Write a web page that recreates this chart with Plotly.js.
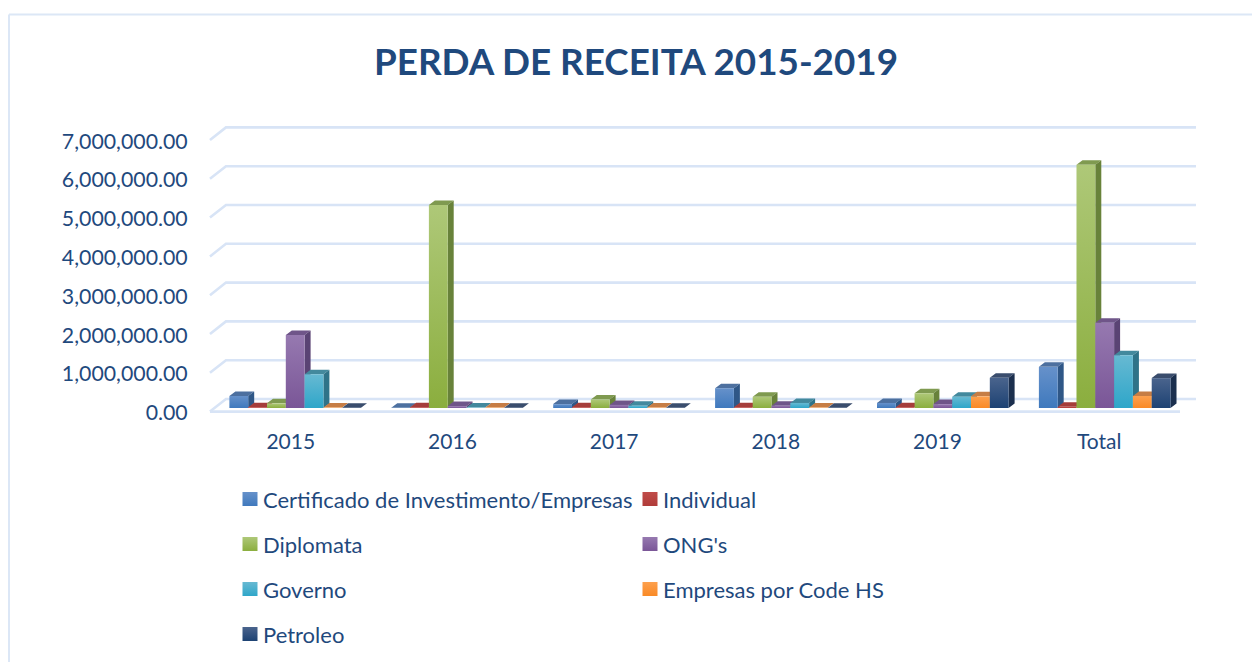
<!DOCTYPE html>
<html>
<head>
<meta charset="utf-8">
<script src="https://cdn.plot.ly/plotly-3.0.1.min.js"></script>
<style>html,body{margin:0;padding:0;background:#fff;overflow:hidden}#chart{width:1252px;height:662px}</style>
</head>
<body>
<div id="chart"></div>
<script>
const categories = ['2015','2016','2017','2018','2019','Total'];
const certificado = [310000, 5000, 100000, 510000, 130000, 1060000];
const individual  = [20000, 20000, 20000, 20000, 20000, 30000];
const diplomata   = [120000, 5230000, 220000, 290000, 380000, 6270000];
const ongs        = [1880000, 50000, 80000, 60000, 100000, 2200000];
const governo     = [870000, 10000, 60000, 130000, 290000, 1360000];
const empresasHS  = [10000, 10000, 10000, 10000, 300000, 310000];
const petroleo    = [5000, 5000, 5000, 5000, 780000, 770000];
const seriesNames = ['Certificado de Investimento/Empresas','Individual','Diplomata',"ONG's",'Governo','Empresas por Code HS','Petroleo'];
const seriesValues = [certificado, individual, diplomata, ongs, governo, empresasHS, petroleo];
const yTicks = [0,1000000,2000000,3000000,4000000,5000000,6000000,7000000];

const frontColors = [['#6691ca','#3f79bd'],['#c04c49','#b03c39'],['#aec878','#8bae3e'],['#9679b0','#7a5697'],['#67b9d2','#2ea6c9'],['#fda04e','#f98a26'],['#4a648d','#1d4273']];
const topColors  = ['#4d709f','#a53d3a','#7f9a50','#6f5589','#43899d','#c67d45','#3a4d6d'];
const sideColors = ['#2f5787','#7f2c2a','#68823a','#5a4374','#2f7388','#b56a2c','#1b2f4e'];
const legendPos = [[243,499.3],[643,499.3],[243,544.3],[643,544.3],[243,589.3],[643,589.3],[243,634.3]];

const W = 1252, H = 662;
const P = {l:205, r:1200, t:115, b:418};
const PXY = 38.8e-6;                       // px per unit
const front = {x0:290.8, sx:161.67, y0:411.6};
const bars  = {x0:295.2, sx:161.9,  y0:408};
const bargap = 0.187;
const bw = (1-bargap)/7;
const depthX = 6/bars.sx, depthY = 4.5/PXY;
const wallX = 16/front.sx, wallY = 12.6/PXY;

const rng = g => ({
  x:[(P.l-g.x0)/g.sx,(P.r-g.x0)/g.sx],
  y:[(g.y0-P.b)/PXY,(g.y0-P.t)/PXY]
});
const rF = rng(front), rB = rng(bars);

const traces = [];
// back wall + floor
const wx=[], wy=[];
yTicks.forEach(v=>{ wx.push(-0.5,-0.5+wallX,5.5+wallX,null); wy.push(v,v+wallY,v+wallY,null); });
wx.push(-0.5,5.5); wy.push(0,0);
traces.push({type:'scatter',mode:'lines',x:wx,y:wy,xaxis:'x',yaxis:'y',line:{color:'#d8e4f6',width:2.6},hoverinfo:'skip',showlegend:false});

// depth faces (left to right so they stack correctly)
seriesValues.forEach((vals,s)=>{
  const tx=[],ty=[],sx=[],sy=[];
  vals.forEach((v,c)=>{
    const L = c+(s-3.5)*bw, R = L+bw;
    tx.push(L,L+depthX,R+depthX,R,L,null); ty.push(v,v+depthY,v+depthY,v,v,null);
    sx.push(R,R+depthX,R+depthX,R,R,null); sy.push(0,depthY,v+depthY,v,0,null);
  });
  traces.push({type:'scatter',mode:'lines',x:tx,y:ty,xaxis:'x2',yaxis:'y2',fill:'toself',fillcolor:topColors[s],line:{width:0},hoverinfo:'skip',showlegend:false});
  traces.push({type:'scatter',mode:'lines',x:sx,y:sy,xaxis:'x2',yaxis:'y2',fill:'toself',fillcolor:sideColors[s],line:{width:0},hoverinfo:'skip',showlegend:false});
});

// front faces
seriesValues.forEach((vals,s)=>{
  traces.push({type:'bar',name:seriesNames[s],x:categories.map((_,i)=>i),y:vals,xaxis:'x3',yaxis:'y3',
    marker:{color:frontColors[s][1],line:{width:0}},legend:s?('legend'+(s+1)):'legend',showlegend:true});
});

const hidden = (r,o)=>Object.assign({type:'linear',range:r,autorange:false,visible:false,fixedrange:true},o);
const textCol = '#1f497d';
const FONT = 'Lato, "Open Sans", sans-serif';
const layout = {
  width:W,height:H,paper_bgcolor:'#fff',plot_bgcolor:'rgba(0,0,0,0)',
  margin:{l:P.l,r:W-P.r,t:P.t,b:H-P.b,pad:0,autoexpand:false},
  font:{family:FONT,color:textCol},
  title:{text:'<b>PERDA DE RECEITA 2015-2019</b>',font:{size:36.8,color:textCol,family:FONT},xref:'container',yref:'container',x:636/W,xanchor:'center',y:1-62/H,yanchor:'middle'},
  barmode:'group',bargap:bargap,bargroupgap:0,
  hovermode:false,
  xaxis:{type:'linear',range:rF.x,autorange:false,tickmode:'array',tickvals:categories.map((_,i)=>i),ticktext:categories,
         showgrid:false,zeroline:false,showline:false,ticks:'outside',ticklen:5,tickcolor:'rgba(0,0,0,0)',tickfont:{size:21,color:textCol,family:FONT},fixedrange:true},
  yaxis:{type:'linear',range:rF.y,autorange:false,tickmode:'array',tickvals:yTicks,tickformat:',.2f',
         showgrid:false,zeroline:false,showline:false,ticks:'outside',ticklen:12,tickcolor:'rgba(0,0,0,0)',tickfont:{size:21.3,color:textCol,family:FONT},fixedrange:true},
  xaxis2:hidden(rB.x,{overlaying:'x',anchor:'y2'}),
  yaxis2:hidden(rB.y,{overlaying:'y',anchor:'x2'}),
  xaxis3:hidden(rB.x,{overlaying:'x',anchor:'y3'}),
  yaxis3:hidden(rB.y,{overlaying:'y',anchor:'x3'}),
  shapes:[
    {type:'line',xref:'paper',yref:'paper',x0:(9-P.l)/(P.r-P.l),x1:(W-P.l)/(P.r-P.l),y0:(P.b-14.5)/(P.b-P.t),y1:(P.b-14.5)/(P.b-P.t),line:{color:'#dce7f6',width:2}},
    {type:'line',xref:'paper',yref:'paper',x0:(9-P.l)/(P.r-P.l),x1:(9-P.l)/(P.r-P.l),y0:(P.b-14.5)/(P.b-P.t),y1:(P.b-H)/(P.b-P.t),line:{color:'#dce7f6',width:2}}
  ]
};
seriesNames.forEach((n,s)=>{
  layout[s?('legend'+(s+1)):'legend'] = {
    xref:'container',yref:'container',x:(legendPos[s][0]-20)/W,xanchor:'left',y:1-legendPos[s][1]/H,yanchor:'middle',
    bgcolor:'rgba(0,0,0,0)',borderwidth:0,font:{size:22,color:textCol,family:FONT},itemclick:false,itemdoubleclick:false
  };
});

Plotly.newPlot('chart',traces,layout,{displayModeBar:false,staticPlot:true}).then(gd=>{
  const svg = gd.querySelector('svg.main-svg');
  const defs = svg.querySelector('defs');
  const NS='http://www.w3.org/2000/svg';
  frontColors.forEach((c,s)=>{
    const g=document.createElementNS(NS,'linearGradient');
    g.setAttribute('id','barGrad'+s);
    g.setAttribute('x1','0');g.setAttribute('y1','0');g.setAttribute('x2','0');g.setAttribute('y2','1');
    [[0,c[0]],[1,c[1]]].forEach(([o,col])=>{
      const st=document.createElementNS(NS,'stop');st.setAttribute('offset',o);st.setAttribute('stop-color',col);g.appendChild(st);
    });
    defs.appendChild(g);
  });
  gd.querySelectorAll('.barlayer .trace.bars').forEach((t,s)=>{
    t.querySelectorAll('path').forEach(p=>{p.style.fill='url(#barGrad'+s+')';});
  });
  seriesNames.forEach((n,s)=>{
    const lg = gd.querySelector('g.legend'+(s?(s+1):''));
    if(!lg) return;
    const p = lg.querySelector('.legendpoints path');
    if(p){ p.setAttribute('d','M-7.5,-7H7.5V7H-7.5Z'); p.setAttribute('transform','translate(27,0)'); p.style.fill='url(#barGrad'+s+')'; p.style.stroke='none'; }
  });
  // nudge the value labels to the reference's baseline
  gd.querySelectorAll('.ytick text').forEach(t=>{
    t.setAttribute('transform',(t.getAttribute('transform')||'')+' translate(0,1.2)');
  });
});
</script>
</body>
</html>
